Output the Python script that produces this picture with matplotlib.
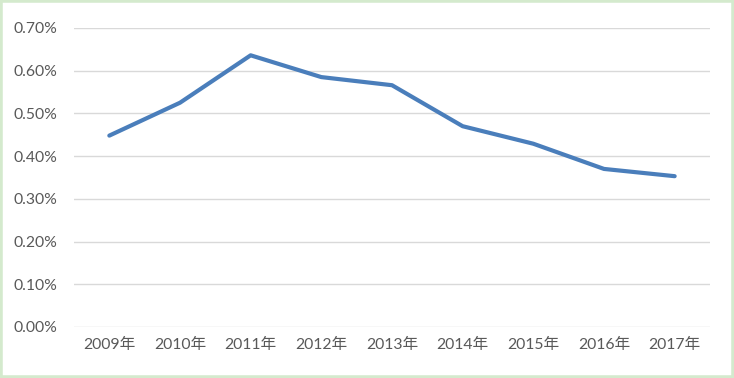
import matplotlib
matplotlib.use("Agg")
import matplotlib.pyplot as plt
from matplotlib.patches import Rectangle
from matplotlib.ticker import FuncFormatter

plt.rcParams['font.family'] = ['Lato', 'Noto Sans CJK SC', 'DejaVu Sans']

years = ['2009年', '2010年', '2011年', '2012年', '2013年', '2014年', '2015年', '2016年', '2017年']
values = [0.448, 0.525, 0.636, 0.585, 0.566, 0.470, 0.429, 0.370, 0.353]

fig = plt.figure(figsize=(7.34, 3.78), dpi=100)
ax = fig.add_axes([0.1008, 0.135, 0.8665, 0.791])

x = range(len(years))
ax.plot(x, values, color='#4A7EBB', linewidth=3, solid_capstyle='round', solid_joinstyle='round', zorder=3)

ax.set_xlim(-0.5, len(years) - 0.5)
ax.set_ylim(0, 0.70)
ax.set_yticks([0, 0.1, 0.2, 0.3, 0.4, 0.5, 0.6, 0.7])
ax.yaxis.set_major_formatter(FuncFormatter(lambda v, p: '{:.2f}%'.format(v)))
ax.set_xticks(list(x))
ax.set_xticklabels(years)

ax.grid(axis='y', color='#D9D9D9', linewidth=1)
ax.set_axisbelow(True)
for s in ax.spines.values():
    s.set_visible(False)
ax.tick_params(length=0, labelsize=11.3, labelcolor='#595959')
ax.tick_params(axis='x', pad=8)
ax.tick_params(axis='y', pad=12)

# light green frame
fig.patches.append(Rectangle((0, 0), 1, 1, transform=fig.transFigure, fill=False,
                             edgecolor='#D4EACD', linewidth=4))

fig.savefig('out.png', dpi=100)
